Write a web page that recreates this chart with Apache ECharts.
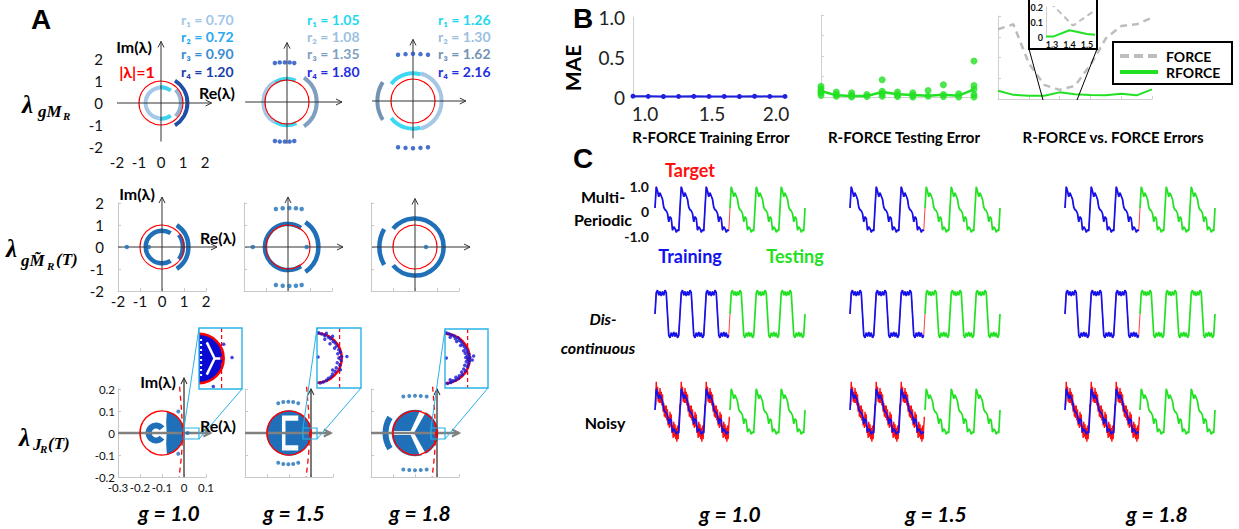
<!DOCTYPE html>
<html><head><meta charset="utf-8">
<script src="https://cdn.jsdelivr.net/npm/echarts@6/dist/echarts.min.js"></script>
<style>html,body{margin:0;padding:0;background:#fff;}#chart{width:1239px;height:529px;}</style>
</head><body><div id="chart"></div>
<script>
// ===================== DATA =====================
const gLabels = ['g = 1.0', 'g = 1.5', 'g = 1.8'];

// ---- Panel A, row 1: eigenvalues of g*M_R, rings r1..r4 ----
const ringRadiiG10 = [0.70, 0.72, 0.90, 1.20];
const ringRadiiG15 = [1.05, 1.08, 1.35, 1.80];
const ringRadiiG18 = [1.26, 1.30, 1.62, 2.16];
// visible arc pieces: [ring index, from angle deg, to angle deg]
const ringArcsG10 = [[0, 95, 265], [1, 52, 95], [1, 265, 308], [2, -42, 42], [3, -58, 58]];
const ringArcsG15 = [[1, 122, 238], [0, 68, 122], [0, 238, 294], [2, -55, 55]];
const ringArcsG18 = [[0, 74, 142], [0, 218, 286], [1, -74, 74], [2, 148, 212]];
// isolated eigenvalues of the outer ring [Re, Im]
const ringDotsG10 = [];
const ringDotsG15 = [[-0.55, 1.77], [-0.33, 1.8], [-0.1, 1.8], [0.12, 1.8], [0.33, 1.77],
                     [-0.55, -1.77], [-0.33, -1.8], [-0.1, -1.8], [0.12, -1.8], [0.33, -1.77]];
const ringDotsG18 = [[-0.68, 2.1], [-0.34, 2.13], [0, 2.15], [0.34, 2.13], [0.68, 2.1],
                     [-0.68, -2.1], [-0.34, -2.13], [0, -2.15], [0.34, -2.13], [0.68, -2.1]];

// ---- Panel A, row 2: eigenvalues of trained g*M~_R(T) ----
const trainedArcsG10 = [[0.74, 58, 302], [0.95, -36, 36], [1.2, -56, 56]];   // [radius, from, to]
const trainedArcsG15 = [[1.05, 56, 304], [1.38, -55, 55]];
const trainedArcsG18 = [[1.3, -140, 140], [1.62, 150, 210]];
const trainedDotsG10 = [[-1.6, 0], [-0.6, 0]];
const trainedDotsG15 = [[-1.6, 0], [0.85, 0], [-0.55, 1.73], [-0.24, 1.76], [0.06, 1.77], [0.36, 1.76], [0.62, 1.73],
                        [-0.55, -1.73], [-0.24, -1.76], [0.06, -1.77], [0.36, -1.76], [0.62, -1.73]];
const trainedDotsG18 = [[0.5, 0]];

// ---- Panel A, row 3: Jacobian eigenvalues ----
const unitCircleJ = [-0.1, 0, 0.1];                    // [Re, Im, radius]
const stabilityEdge = [[-0.02, 0.21], [-0.011, 0.1], [-0.006, 0], [-0.011, -0.1], [-0.022, -0.2]];
const jacBulkG10 = [[-0.078, 0.096], [-0.06, 0.093], [-0.045, 0.087], [-0.03, 0.075], [-0.017, 0.058], [-0.007, 0.036],
                    [-0.002, 0.012], [-0.002, -0.012], [-0.007, -0.036], [-0.017, -0.058], [-0.03, -0.075], [-0.045, -0.087],
                    [-0.06, -0.093], [-0.078, -0.096], [-0.081, -0.05], [-0.079, 0], [-0.081, 0.05]];
const jacCoreG10 = [-0.127, 0, 0.034, 38, 322];        // [Re, Im, radius, from, to]
const jacDotsG10 = [[-0.026, 0.098], [-0.026, -0.094], [0.016, 0]];
const jacBulkG15 = [-0.1, 0, 0.103];
const jacGapsG15 = [[[-0.132, 0.08], [-0.058, 0.08], [-0.058, 0.056], [-0.116, 0.056], [-0.116, -0.056],
                     [-0.058, -0.056], [-0.058, -0.08], [-0.132, -0.08]]];
const jacDotsG15 = [[-0.149, 0.135], [-0.126, 0.141], [-0.103, 0.142], [-0.081, 0.141], [-0.058, 0.135],
                    [-0.149, -0.135], [-0.126, -0.141], [-0.103, -0.142], [-0.081, -0.141], [-0.058, -0.135]];
const jacBulkG18 = [-0.1, 0, 0.106];
const jacOuterG18 = [-0.1, 0, 0.134, 148, 212];
const jacGapsG18 = [[[-0.2, 0.009], [-0.113, 0.009], [-0.113, -0.009], [-0.2, -0.009]],
                    [[-0.122, 0.004], [-0.078, 0.1], [-0.048, 0.1], [-0.102, 0.004]],
                    [[-0.122, -0.004], [-0.078, -0.1], [-0.048, -0.1], [-0.102, -0.004]]];
const jacDotsG18 = [[-0.153, 0.166], [-0.126, 0.168], [-0.1, 0.169], [-0.074, 0.168], [-0.047, 0.166],
                    [-0.153, -0.166], [-0.126, -0.168], [-0.1, -0.169], [-0.074, -0.168], [-0.047, -0.166]];
// zoomed views of the stability edge
const zoomEdge = [0, 0, 0.95, -90, 90];
const zoomDashX = 0.87;
const zoomGapsG10 = [[[0.3, 0.62], [0.6, 0], [0.3, -0.62]], [[0.6, 0], [0.82, 0]]];
const zoomDotsG10 = [[1.27, 0.04], [0.55, -1.08], [0.95, 0.55]];
const zoomDotsG15 = [[0.06, 0.97], [0.18, 0.92], [0.3, 0.86], [0.36, 0.95], [0.44, 0.8], [0.52, 0.74], [0.6, 0.84], [0.62, 0.64],
  [0.7, 0.58], [0.76, 0.46], [0.68, 0.38], [0.84, 0.32], [0.9, 0.22], [0.8, 0.16], [0.95, 0.06], [0.84, 0.0], [0.93, -0.1],
  [0.78, -0.18], [0.88, -0.28], [0.74, -0.38], [0.7, -0.52], [0.6, -0.62], [0.54, -0.72], [0.44, -0.78], [0.36, -0.86],
  [0.24, -0.92], [0.12, -0.96], [0.04, 0.04], [1.15, 0.06], [0.3, 0.72], [0.6, -0.46], [0.9, -0.45], [0.5, 0.55]];
const zoomDotsG18 = [[0.05, 0.99], [0.15, 0.95], [0.25, 0.9], [0.2, 0.82], [0.35, 0.86], [0.4, 0.76], [0.5, 0.8], [0.55, 0.7],
  [0.45, 0.65], [0.62, 0.64], [0.68, 0.55], [0.6, 0.5], [0.74, 0.46], [0.8, 0.38], [0.72, 0.3], [0.86, 0.28], [0.78, 0.2],
  [0.92, 0.16], [0.85, 0.1], [0.96, 0.04], [0.88, -0.02], [0.8, 0.04], [0.94, -0.1], [0.82, -0.12], [0.9, -0.2], [0.76, -0.26],
  [0.86, -0.32], [0.72, -0.4], [0.78, -0.48], [0.64, -0.52], [0.66, -0.62], [0.55, -0.66], [0.52, -0.76], [0.42, -0.72],
  [0.4, -0.84], [0.3, -0.86], [0.22, -0.92], [0.1, -0.96], [0.2, -0.82], [0.05, 0.02], [1.1, 0.1], [1.05, -0.06]];

// ---- Panel B: MAE vs g ----
const gSweep = [1.0, 1.1, 1.2, 1.3, 1.4, 1.5, 1.6, 1.7, 1.8, 1.9, 2.0];
const trainMAE = [0.010, 0.008, 0.006, 0.007, 0.008, 0.007, 0.007, 0.006, 0.009, 0.007, 0.007];
const testMAEMean = [0.073, 0.02, 0.012, 0.012, 0.06, 0.033, 0.025, 0.016, 0.028, 0.016, 0.094];
const testMAETrials = [[1.0, 0.13], [1.0, 0.1], [1.0, 0.07], [1.0, 0.05], [1.0, 0.02], [1.1, 0.06], [1.1, 0.03], [1.1, 0.01],
  [1.2, 0.05], [1.2, 0.02], [1.2, 0.0], [1.3, 0.03], [1.3, 0.005], [1.4, 0.21], [1.4, 0.07], [1.4, 0.04], [1.4, 0.01],
  [1.5, 0.06], [1.5, 0.025], [1.5, 0.005], [1.6, 0.05], [1.6, 0.02], [1.6, 0.0], [1.7, 0.08], [1.7, 0.01], [1.8, 0.15],
  [1.8, 0.03], [1.8, 0.005], [1.9, 0.04], [1.9, 0.0], [2.0, 0.44], [2.0, 0.14], [2.0, 0.094], [2.0, 0.03], [2.0, 0.0]];
const forceMAE = [0.84, 0.9, 0.43, 0.17, 0.11, 0.16, 0.41, 0.73, 0.88, 0.9, 0.98];
const rforceMAE = [0.10, 0.05, 0.04, 0.04, 0.08, 0.056, 0.048, 0.044, 0.064, 0.044, 0.116];
const zoomForceG = [1.29, 1.42, 1.546];
const zoomForceMAE = [0.23, 0.076, 0.178];
const zoomRforceG = [1.266, 1.31, 1.4, 1.5, 1.546];
const zoomRforceMAE = [0.003, 0.004, 0.045, 0.02, 0.015];
const bTitles = ['R-FORCE Training Error', 'R-FORCE Testing Error', 'R-FORCE vs. FORCE Errors'];
const legendNames = ['FORCE', 'RFORCE'];

// ---- Panel C: one cycle of each signal (20 samples per cycle) ----
const multiPeriodicCycle = [0.12, 0.97, 0.8, 0.57, 0.73, 0.6, 0.47, 0.15, 0.05, 0.01, -0.1, -0.43, -0.23, -0.3, -0.77, -0.63, -0.7, -0.85, -0.75, -0.8];
const discontinuousCycle = [0.0, 0.85, 0.95, 0.75, 0.9, 0.72, 0.9, 0.75, 0.95, 0.85, 0.0, -0.85, -0.95, -0.75, -0.9, -0.72, -0.9, -0.75, -0.95, -0.85];
// noisy target, 40 samples per cycle
const noisyTargetCycle = [0.35, 0.3, 1.25, 0.7, 1.05, 0.45, 0.85, 0.4, 1.0, 0.4, 0.85, 0.3, 0.75, 0.05, 0.4, -0.15, 0.3, -0.2, 0.3, -0.3,
  0.15, -0.5, -0.15, -0.6, 0.05, -0.55, -0.05, -0.8, -0.5, -1.0, -0.35, -0.95, -0.45, -1.05, -0.6, -1.15, -0.5, -1.05, -0.55, -0.15];
const trainCycles = 3, testCycles = 3;
const cRowLabels = [['Multi-', 'Periodic'], ['Dis-', 'continuous'], ['Noisy']];

// ===================== STYLE / LAYOUT =====================
const SANS = 'Lato, "DejaVu Sans", sans-serif';
const SERIF = '"Liberation Serif", "DejaVu Serif", serif';
const BLUE_M = '#1f70b8';
const RED = '#ff0000';
const C_BLUE = '#1212ee', C_GREEN = '#22e022', C_RED = '#ff1010';
const ringArcColors = [['#a6c8e8', '#3fd2f0', '#93b3d2', '#1f4fa6'], ['#3fd8f2', '#a6c6e6', '#7f9fc0', '#1d4fbf'], ['#3fd8f2', '#a6c6e6', '#7393b5', '#1d4fbf']];
const ringTextColors = [['#a3c6e8', '#2aa8f0', '#3b8bd6', '#1d3fa8'], ['#1fd8ee', '#9dbfe0', '#7f9fc0', '#1f2fe0'], ['#1fd8ee', '#9dbfe0', '#7393b5', '#1f2fe0']];

const grids = [], xAxes = [], yAxes = [], series = [], graphics = [];
function addGrid(rect, xa, ya) {
  const i = grids.length;
  grids.push({left: rect[0], top: rect[1], width: rect[2], height: rect[3], outerBoundsMode: 'none'});
  xAxes.push(Object.assign({gridIndex: i, type: 'value'}, xa));
  yAxes.push(Object.assign({gridIndex: i, type: 'value'}, ya));
  return i;
}
function hid(min, max) { return {min: min, max: max, show: false}; }
const toRad = d => d * Math.PI / 180;
function arrowEl(a, b, color, w, head) {
  const dx = b[0] - a[0], dy = b[1] - a[1], L = Math.hypot(dx, dy), ux = dx / L, uy = dy / L, nx = -uy, ny = ux;
  const hl = head || 6, hw = hl * 0.5;
  return {type: 'group', children: [
    {type: 'line', shape: {x1: a[0], y1: a[1], x2: b[0], y2: b[1]}, style: {stroke: color, lineWidth: w}},
    {type: 'polyline', shape: {points: [[b[0] - ux * hl + nx * hw, b[1] - uy * hl + ny * hw], [b[0], b[1]], [b[0] - ux * hl - nx * hw, b[1] - uy * hl - ny * hw]]},
     style: {stroke: color, lineWidth: Math.max(1, w * 0.8), fill: 'none'}}
  ]};
}
function renderShape(s, api) {
  const P = p => api.coord(p);
  if (s.t === 'arc' || s.t === 'sector') {
    const c = P(s.c), r = api.size([s.r, 0])[0];
    const shape = {cx: c[0], cy: c[1], r: r, startAngle: -toRad(s.a[1]), endAngle: -toRad(s.a[0]), clockwise: true};
    if (s.t === 'arc') return {type: 'arc', shape: shape, style: {stroke: s.color, lineWidth: s.w, fill: 'none'}};
    shape.r0 = 0; return {type: 'sector', shape: shape, style: {fill: s.fill}};
  }
  if (s.t === 'circle') {
    const c = P(s.c), r = api.size([s.r, 0])[0];
    return {type: 'circle', shape: {cx: c[0], cy: c[1], r: r}, style: {fill: s.fill || 'none', stroke: s.stroke || 'none', lineWidth: s.w || 0}};
  }
  if (s.t === 'poly') return {type: 'polygon', shape: {points: s.pts.map(P)}, style: {fill: s.fill}};
  if (s.t === 'line') return {type: 'polyline', shape: {points: s.pts.map(P)}, style: {stroke: s.color, lineWidth: s.w, lineDash: s.dash || null, fill: 'none'}};
  if (s.t === 'arrow') return arrowEl(P(s.from), P(s.to), s.color, s.w, s.head);
  return null;
}
function addShapes(gi, shapes, z) {
  series.push({type: 'custom', xAxisIndex: gi, yAxisIndex: gi, data: shapes.map(() => [0, 0]), silent: true, clip: false,
    z: z || 2, animation: false, renderItem: (p, api) => renderShape(shapes[p.dataIndex], api)});
}
function addDots(gi, pts, color, size, z) {
  series.push({type: 'scatter', xAxisIndex: gi, yAxisIndex: gi, data: pts, symbol: 'circle', symbolSize: size,
    itemStyle: {color: color}, clip: false, silent: true, z: z || 3, animation: false});
}
function txt(x, y, text, font, color, align, extra) {
  graphics.push(Object.assign({type: 'text', x: x, y: y, z: 30, silent: true,
    style: {text: text, font: font, fill: color || '#000', align: align || 'center', verticalAlign: 'middle',
            textAlign: align || 'center', textVerticalAlign: 'middle'}}, extra || {}));
}
function gRect(x, y, w, h, stroke, lw, fill, z) {
  graphics.push({type: 'rect', z: z || 25, silent: true, shape: {x: x, y: y, width: w, height: h}, style: {stroke: stroke, lineWidth: lw, fill: fill || 'none'}});
}
function gLine(x1, y1, x2, y2, stroke, lw, z, dash) {
  graphics.push({type: 'line', z: z || 25, silent: true, shape: {x1: x1, y1: y1, x2: x2, y2: y2}, style: {stroke: stroke, lineWidth: lw, lineDash: dash || null}});
}
const lblA = (size, margin) => ({show: true, fontSize: size, fontFamily: SANS, color: '#111', margin: margin});
function frameAxis(min, max, interval, label) {
  return {min: min, max: max, interval: interval,
    axisLine: {show: true, onZero: false, lineStyle: {color: '#c8c8c8', width: 1}},
    axisTick: {show: true, inside: true, length: 3, lineStyle: {color: '#c8c8c8'}},
    splitLine: {show: false}, axisLabel: label || {show: false}};
}
function labelOnlyAxis(min, max, interval, label) {
  return {min: min, max: max, interval: interval, axisLine: {show: false, onZero: false}, axisTick: {show: false},
    splitLine: {show: false}, axisLabel: label};
}

// ===================== PANEL A =====================
const ringRadii = [ringRadiiG10, ringRadiiG15, ringRadiiG18];
const ringArcs = [ringArcsG10, ringArcsG15, ringArcsG18];
const ringDots = [ringDotsG10, ringDotsG15, ringDotsG18];
const trainedArcs = [trainedArcsG10, trainedArcsG15, trainedArcsG18];
const trainedDots = [trainedDotsG10, trainedDotsG15, trainedDotsG18];
const SUBS = ['\u2081', '\u2082', '\u2083', '\u2084'];
const A1X = [161, 287, 413], A1Y = [103, 102, 101];
const row1ArrowX = [[-2, 2.3], [-1.9, 2.5], [-1.86, 2.4]], row1ArrowY = [[-1.75, 2.8], [-1.9, 2.7], [-1.7, 2.8]];
const rLabelX = [181, 307, 438], rLabelY = [19, 36, 53, 71];
for (let c = 0; c < 3; c++) {
  const s = 22, ox = A1X[c], oy = A1Y[c];
  const gi = addGrid([ox - 2 * s, oy - 2 * s, 4 * s, 4 * s],
    c === 0 ? labelOnlyAxis(-2, 2, 1, lblA(15, 7)) : hid(-2, 2),
    c === 0 ? labelOnlyAxis(-2, 2, 1, lblA(15, 14)) : hid(-2, 2));
  const sh = [];
  ringArcs[c].forEach(a => sh.push({t: 'arc', c: [0, 0], r: ringRadii[c][a[0]], a: [a[1], a[2]], color: ringArcColors[c][a[0]], w: 4}));
  sh.push({t: 'circle', c: [0, 0], r: 1, stroke: RED, w: 1.2});
  sh.push({t: 'arrow', from: [row1ArrowX[c][0], 0], to: [row1ArrowX[c][1], 0], color: '#333', w: 1});
  sh.push({t: 'arrow', from: [0, row1ArrowY[c][0]], to: [0, row1ArrowY[c][1]], color: '#333', w: 1});
  addShapes(gi, sh);
  if (ringDots[c].length) addDots(gi, ringDots[c], '#1d4fbf', 4.5);
  ringRadii[c].forEach((r, k) => txt(rLabelX[c], rLabelY[k], 'r' + SUBS[k] + ' = ' + r.toFixed(2), 'bold 14px ' + SANS, ringTextColors[c][k], 'left'));
}
const A2X = [162, 288, 415], A2Y = 247;
const row2ArrowX = [[-2, 2.5], [-1.95, 2.5], [-1.95, 2.5]], row2ArrowY = [[-2, 2.27], [-2, 2.27], [-2, 2.2]];
for (let c = 0; c < 3; c++) {
  const s = 22, ox = A2X[c], oy = A2Y;
  const gi = addGrid([ox - 2 * s, oy - 2 * s, 4 * s, 4 * s],
    frameAxis(-2, 2, 1, c === 0 ? lblA(15, 2) : null),
    frameAxis(-2, 2, 1, c === 0 ? lblA(15, 14) : null));
  const sh = [];
  trainedArcs[c].forEach(a => sh.push({t: 'arc', c: [0, 0], r: a[0], a: [a[1], a[2]], color: BLUE_M, w: 4.5}));
  sh.push({t: 'circle', c: [0, 0], r: 1, stroke: RED, w: 1.2});
  sh.push({t: 'arrow', from: [row2ArrowX[c][0], 0], to: [row2ArrowX[c][1], 0], color: '#333', w: 1});
  sh.push({t: 'arrow', from: [0, row2ArrowY[c][0]], to: [0, row2ArrowY[c][1]], color: '#333', w: 1});
  addShapes(gi, sh);
  addDots(gi, trainedDots[c], BLUE_M, 4.5);
}
const A3X = [184, 311, 437], A3Y = 433, JS = 220;
const jacArrowX = [0.12, 0.09, 0.1], jacArrowY = [0.25, 0.2, 0.2];
const jacDots = [jacDotsG10, jacDotsG15, jacDotsG18];
for (let c = 0; c < 3; c++) {
  const ox = A3X[c];
  const gi = addGrid([ox - 0.3 * JS, A3Y - 0.2 * JS, 0.4 * JS, 0.4 * JS],
    frameAxis(-0.3, 0.1, 0.1, c === 0 ? lblA(11.5, 4) : null),
    frameAxis(-0.2, 0.2, 0.1, c === 0 ? lblA(11.5, 3) : null));
  const sh = [];
  if (c === 0) {
    sh.push({t: 'poly', pts: jacBulkG10, fill: BLUE_M});
    sh.push({t: 'arc', c: [jacCoreG10[0], jacCoreG10[1]], r: jacCoreG10[2], a: [jacCoreG10[3], jacCoreG10[4]], color: BLUE_M, w: 6});
  } else if (c === 1) {
    sh.push({t: 'circle', c: [jacBulkG15[0], jacBulkG15[1]], r: jacBulkG15[2], fill: BLUE_M});
    jacGapsG15.forEach(p => sh.push({t: 'poly', pts: p, fill: '#ffffff'}));
  } else {
    sh.push({t: 'circle', c: [jacBulkG18[0], jacBulkG18[1]], r: jacBulkG18[2], fill: BLUE_M});
    sh.push({t: 'arc', c: [jacOuterG18[0], jacOuterG18[1]], r: jacOuterG18[2], a: [jacOuterG18[3], jacOuterG18[4]], color: BLUE_M, w: 6});
    jacGapsG18.forEach(p => sh.push({t: 'poly', pts: p, fill: '#ffffff'}));
  }
  sh.push({t: 'arrow', from: [-0.3, 0], to: [jacArrowX[c], 0], color: '#808080', w: 2.5, head: 7});
  sh.push({t: 'arrow', from: [0, -0.2], to: [0, jacArrowY[c]], color: '#333', w: 1.3});
  sh.push({t: 'circle', c: [unitCircleJ[0], unitCircleJ[1]], r: unitCircleJ[2], stroke: RED, w: 1.5});
  sh.push({t: 'line', pts: stabilityEdge, color: RED, w: 1.3, dash: [5, 4]});
  addShapes(gi, sh);
  addDots(gi, jacDots[c], BLUE_M, 4);
}
// zoom insets of the stability edge
const insetRects = [[199, 328, 43, 61], [317, 328, 44, 60], [445, 329, 43, 59]];
const smallBoxes = [[184, 428, 15, 11], [303, 428, 14, 11], [431, 428, 14, 11]];
const zoomDots = [zoomDotsG10, zoomDotsG15, zoomDotsG18];
const CYAN = '#2ab2e6';
for (let c = 0; c < 3; c++) {
  const r = insetRects[c], zs = 26;
  const gi = addGrid(r, hid(0, r[2] / zs), hid(-r[3] / (2 * zs), r[3] / (2 * zs)));
  const sh = [];
  if (c === 0) {
    sh.push({t: 'sector', c: [zoomEdge[0], zoomEdge[1]], r: zoomEdge[2], a: [zoomEdge[3], zoomEdge[4]], fill: '#0a0ad2'});
    zoomGapsG10.forEach(p => sh.push({t: 'line', pts: p, color: '#ffffff', w: 2.5}));
    sh.push({t: 'line', pts: [[0.08, 0.75], [0.08, -0.75]], color: '#ffffff', w: 2, dash: [2, 3]});
  }
  sh.push({t: 'arc', c: [zoomEdge[0], zoomEdge[1]], r: zoomEdge[2], a: [zoomEdge[3], zoomEdge[4]], color: RED, w: 2.5});
  sh.push({t: 'line', pts: [[zoomDashX, r[3] / (2 * zs)], [zoomDashX, -r[3] / (2 * zs)]], color: RED, w: 1.2, dash: [4, 3]});
  addShapes(gi, sh);
  addDots(gi, zoomDots[c], '#1616d6', 3.5);
  gRect(r[0], r[1], r[2], r[3], CYAN, 1.4);
  const b = smallBoxes[c];
  gRect(b[0], b[1], b[2], b[3], CYAN, 1.2);
  gLine(b[0], b[1], r[0], r[1], CYAN, 1);
  gLine(b[0] + b[2], b[1] + b[3], r[0] + r[2], r[1] + r[3], CYAN, 1);
}

// Panel A texts
txt(41, 19, 'A', 'bold 28px "Liberation Sans", Arial, sans-serif');
const AXL = 'bold 16px ' + SANS;
txt(134, 46, 'Im(\u03bb)', AXL); txt(137, 71, '|\u03bb|=1', AXL, RED); txt(217, 92, 'Re(\u03bb)', AXL);
txt(137, 193, 'Im(\u03bb)', AXL); txt(218, 237, 'Re(\u03bb)', AXL);
txt(158, 381, 'Im(\u03bb)', AXL); txt(218, 425, 'Re(\u03bb)', AXL);
const LAM = 'italic bold 25px ' + SERIF, SUB1 = 'italic bold 17px ' + SERIF, SUB2 = 'italic bold 11px ' + SERIF;
txt(22, 104, '\u03bb', LAM, '#000', 'left'); txt(38, 111, 'gM', SUB1, '#000', 'left'); txt(63, 116, 'R', SUB2, '#000', 'left');
txt(6, 248, '\u03bb', LAM, '#000', 'left'); txt(21, 260, 'gM\u0303', SUB1, '#000', 'left');
txt(47, 266, 'R', SUB2, '#000', 'left'); txt(56, 259, '(T)', SUB1, '#000', 'left');
txt(19, 437, '\u03bb', LAM, '#000', 'left'); txt(33, 444, 'J', SUB1, '#000', 'left'); txt(40, 449, 'R', SUB2, '#000', 'left'); txt(48, 443, '(T)', SUB1, '#000', 'left');
const GL = 'italic bold 21px ' + SANS;
[169, 294, 420].forEach((x, i) => txt(x, 512, gLabels[i], GL));

// ===================== PANEL B =====================
const bAxisLine = {show: true, onZero: false, lineStyle: {color: '#d0d0d0', width: 1}};
const bTick = {show: true, inside: true, length: 3, lineStyle: {color: '#d0d0d0'}};
const bLab = {fontSize: 19, fontFamily: SANS, color: '#222'};
const b1 = addGrid([633, 17, 152, 80],
  {min: 1, max: 2, interval: 0.5, axisLine: bAxisLine, axisTick: {show: false}, splitLine: {show: false},
   axisLabel: {fontSize: 19, fontFamily: SANS, color: '#222', margin: 7,
     formatter: v => v === 1 ? '{l|1.0}' : (v === 2 ? '{r|2.0}' : '{m|' + v.toFixed(1) + '}'),
     rich: {l: Object.assign({padding: [0, 0, 0, 24]}, bLab), m: Object.assign({padding: [0, 0, 0, 6]}, bLab), r: Object.assign({padding: [0, 18, 0, 0]}, bLab)}}},
  {min: 0, max: 1, interval: 0.5, axisLine: bAxisLine, axisTick: {show: false}, splitLine: {show: false},
   axisLabel: {fontSize: 19, fontFamily: SANS, color: '#222', margin: 8, formatter: v => v === 0 ? '0' : v.toFixed(1)}});
series.push({type: 'line', xAxisIndex: b1, yAxisIndex: b1, data: gSweep.map((g, i) => [g, trainMAE[i]]), symbol: 'circle', symbolSize: 5,
  lineStyle: {color: '#2020e0', width: 2}, itemStyle: {color: '#2020e0'}, animation: false, silent: true});
const b2 = addGrid([821, 15, 153, 82],
  {min: 1, max: 2, interval: 0.2, axisLine: bAxisLine, axisTick: bTick, splitLine: {show: false}, axisLabel: {show: false}},
  {min: 0, max: 1, interval: 0.25, axisLine: bAxisLine, axisTick: bTick, splitLine: {show: false}, axisLabel: {show: false}});
series.push({type: 'line', xAxisIndex: b2, yAxisIndex: b2, data: gSweep.map((g, i) => [g, testMAEMean[i]]), symbol: 'none',
  lineStyle: {color: C_GREEN, width: 2.5}, animation: false, silent: true});
series.push({type: 'scatter', xAxisIndex: b2, yAxisIndex: b2, data: testMAETrials, symbol: 'circle', symbolSize: 7,
  itemStyle: {color: C_GREEN}, animation: false, silent: true, clip: false});
const b3 = addGrid([998, 16, 154, 83],
  {min: 1, max: 2, interval: 0.2, axisLine: bAxisLine, axisTick: bTick, splitLine: {show: false}, axisLabel: {show: false}},
  {min: 0, max: 1, interval: 0.25, axisLine: bAxisLine, axisTick: bTick, splitLine: {show: false}, axisLabel: {show: false}});
const FORCE_STYLE = {color: '#bdbdbd', width: 2.5, type: [7, 5]};
const RFORCE_STYLE = {color: C_GREEN, width: 2};
series.push({type: 'line', name: legendNames[0], xAxisIndex: b3, yAxisIndex: b3, data: gSweep.map((g, i) => [g, forceMAE[i]]), symbol: 'none',
  lineStyle: FORCE_STYLE, animation: false, silent: true});
series.push({type: 'line', name: legendNames[1], xAxisIndex: b3, yAxisIndex: b3, data: gSweep.map((g, i) => [g, rforceMAE[i]]), symbol: 'none',
  lineStyle: RFORCE_STYLE, animation: false, silent: true});
// inset of B3
gRect(1029, -3, 68, 52, '#000', 2, '#ffffff', 5);
gLine(1029, 49, 1043, 100, '#000', 1, 5);
gLine(1097, 49, 1077, 100, '#000', 1, 5);
const lblIn = m => ({fontSize: 9, fontWeight: 'bold', fontFamily: SANS, color: '#111', margin: m, formatter: v => v.toFixed(1) === '0.0' ? '0' : v.toFixed(1)});
const inX = lblIn(3); inX.formatter = v => (Math.abs(v - 1.2) < 1e-6 || Math.abs(v - 1.6) < 1e-6) ? '' : v.toFixed(1);
const b4 = addGrid([1034.5, 7, 70, 30],
  {min: 1.2, max: 1.6, interval: 0.1, z: 8, axisLine: {show: false, onZero: false}, axisTick: {show: false}, splitLine: {show: false}, axisLabel: inX},
  {min: 0, max: 0.2, interval: 0.1, offset: -11.5, z: 8, axisLine: {show: true, onZero: false, lineStyle: {color: '#d0d0d0'}}, axisTick: {show: false}, splitLine: {show: false}, axisLabel: lblIn(3)});
series.push({type: 'line', xAxisIndex: b4, yAxisIndex: b4, data: zoomForceG.map((g, i) => [g, zoomForceMAE[i]]), symbol: 'none', z: 8,
  lineStyle: {color: '#bdbdbd', width: 2, type: [6, 4]}, animation: false, silent: true, clip: true});
series.push({type: 'line', xAxisIndex: b4, yAxisIndex: b4, data: zoomRforceG.map((g, i) => [g, zoomRforceMAE[i]]), symbol: 'none', z: 8,
  lineStyle: {color: C_GREEN, width: 2}, animation: false, silent: true, clip: true});
// legend box
gRect(1113, 42, 119, 42, '#000', 2, '#ffffff', 20);
gLine(1120, 56, 1158, 56, '#bdbdbd', 4, 21, [9, 5]);
gLine(1120, 72, 1158, 72, C_GREEN, 4, 21);
txt(1166, 56, legendNames[0], 'bold 14px ' + SANS, '#000', 'left');
txt(1166, 72, legendNames[1], 'bold 14px ' + SANS, '#000', 'left');
txt(583, 18, 'B', 'bold 28px "Liberation Sans", Arial, sans-serif');
txt(572, 68, 'MAE', 'bold 21px ' + SANS, '#000', 'center', {rotation: Math.PI / 2});
[711, 904, 1113].forEach((x, i) => txt(x, 137, bTitles[i], 'bold 15px ' + SANS));

// ===================== PANEL C =====================
function tile(cycle, n, x0, step) { const out = []; for (let k = 0; k < cycle.length * n; k++) out.push([x0 + k * step, cycle[k % cycle.length]]); return out; }
const CX = [655, 850, 1065], CY0 = [211, 314, 413];
const nTrain = multiPeriodicCycle.length * trainCycles;
for (let row = 0; row < 3; row++) {
  for (let c = 0; c < 3; c++) {
    const showLab = row === 0 && c === 0;
    const gi = addGrid([CX[c], CY0[row] - 25, 150, 50], hid(0, 120),
      showLab ? labelOnlyAxis(-1, 1, 1, {show: true, fontSize: 14, fontWeight: 'bold', fontFamily: SANS, color: '#111', margin: 6,
        formatter: v => v === 0 ? '0' : v.toFixed(1)}) : hid(-1, 1));
    const base = row === 1 ? discontinuousCycle : multiPeriodicCycle;
    const train = tile(base, trainCycles, 0, 1);
    const test = tile(base, testCycles, nTrain, 1).concat([[nTrain * 2, base[0]]]);
    const target = row === 2 ? tile(noisyTargetCycle, trainCycles, 0, 0.5) : train.concat([[nTrain, base[0]]]);
    const common = {type: 'line', xAxisIndex: gi, yAxisIndex: gi, symbol: 'none', animation: false, silent: true, clip: false};
    series.push(Object.assign({data: target, lineStyle: {color: C_RED, width: row === 2 ? 1.4 : 0.8}}, common));
    series.push(Object.assign({data: train, lineStyle: {color: C_BLUE, width: 1.7}}, common));
    series.push(Object.assign({data: test, lineStyle: {color: C_GREEN, width: 1.7}}, common));
  }
}
txt(583, 158, 'C', 'bold 28px "Liberation Sans", Arial, sans-serif');
txt(690, 170, 'Target', 'bold 18px ' + SANS, C_RED);
txt(690, 256, 'Training', 'bold 18px ' + SANS, C_BLUE);
txt(795, 256, 'Testing', 'bold 18px ' + SANS, C_GREEN);
txt(603, 196, cRowLabels[0][0], 'bold 16px ' + SANS); txt(603, 219, cRowLabels[0][1], 'bold 16px ' + SANS);
txt(603, 318, cRowLabels[1][0], 'italic bold 16px ' + SANS); txt(598, 347, cRowLabels[1][1], 'italic bold 16px ' + SANS);
txt(605, 422, cRowLabels[2][0], 'bold 16px ' + SANS);
[730, 936, 1157].forEach((x, i) => txt(x, 513, gLabels[i], GL));

// ===================== CHART =====================
const chart = echarts.init(document.getElementById('chart'), null, {renderer: 'svg', width: 1239, height: 529});
chart.setOption({
  backgroundColor: '#ffffff',
  animation: false,
  grid: grids, xAxis: xAxes, yAxis: yAxes, series: series,
  graphic: {elements: graphics}
});
</script></body></html>
